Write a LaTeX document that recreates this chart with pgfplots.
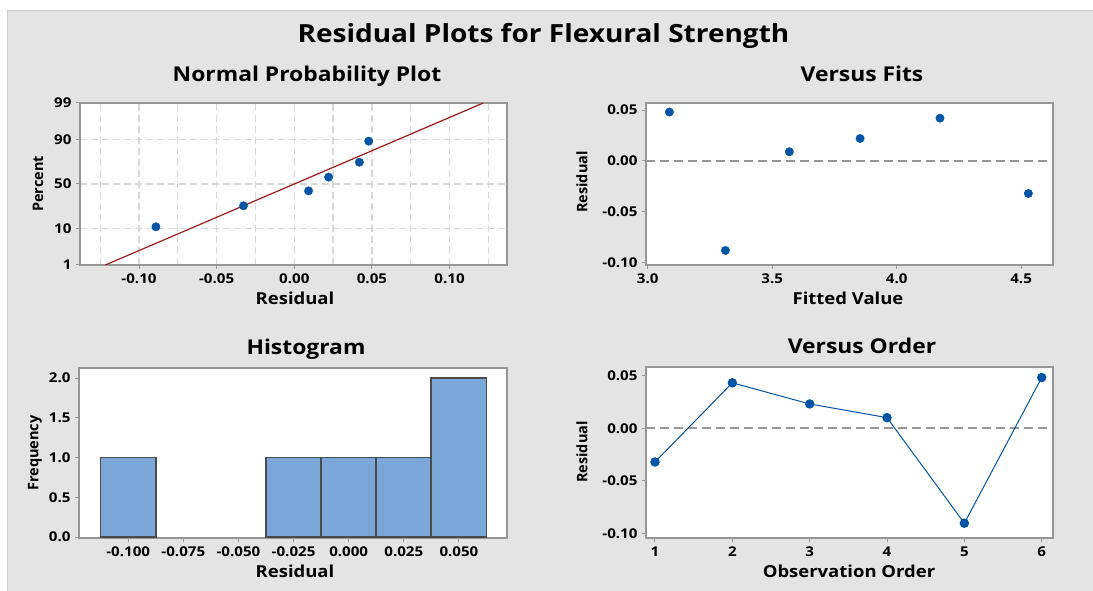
\documentclass[border=0pt]{standalone}
\usepackage{fontspec}
\setmainfont{Open Sans}[FakeStretch=1.12]
\newfontfamily\ylfont{Open Sans}
\usepackage{pgfplots}
\pgfplotsset{compat=1.18}
\definecolor{bgGray}{RGB}{228,228,228}
\definecolor{borderGray}{RGB}{200,200,200}
\definecolor{axisGray}{RGB}{150,150,150}
\definecolor{gridGray}{RGB}{215,215,215}
\definecolor{refGray}{RGB}{150,150,150}
\definecolor{ptBlue}{RGB}{0,84,166}
\definecolor{lineRed}{RGB}{158,28,28}
\definecolor{barBlue}{RGB}{123,166,216}
\definecolor{barEdge}{RGB}{75,75,75}
\pgfplotsset{
  panel/.style={
    scale only axis, anchor=south west,
    /pgf/number format/assume math mode=true,
    axis background/.style={fill=white},
    axis line style={draw=axisGray, line width=1.4pt},
    tick align=outside, xtick pos=bottom, ytick pos=left,
    major tick length=4pt, minor tick length=0pt,
    every tick/.style={draw=axisGray, line width=1pt},
    tick label style={font=\fontsize{13.5}{15}\selectfont\bfseries, text=black},
    xticklabel style={yshift=-1pt},
    yticklabel style={xshift=-1pt},
  },
}
\newcommand{\ttl}{\fontsize{20.4}{24}\selectfont\bfseries}
\newcommand{\xl}{\fontsize{16.5}{19}\selectfont\bfseries}
\newcommand{\yl}{\ylfont\fontsize{14.5}{17}\selectfont\bfseries}
\begin{document}
\begin{tikzpicture}
\useasboundingbox (0pt,0pt) rectangle (1093pt,591pt);
\fill[white] (0pt,0pt) rectangle (1093pt,591pt);
\fill[bgGray] (7pt,0pt) rectangle (1093pt,581pt);
\draw[borderGray, line width=1pt] (7.5pt,0pt) -- (7.5pt,580.5pt) -- (1093pt,580.5pt);

\node[anchor=base] at (543.5pt,548pt) {\fontsize{25}{30}\selectfont\bfseries Residual Plots for Flexural Strength};

% Normal probability plot
\begin{axis}[panel, at={(80pt,326pt)}, width=427pt, height=162pt,
  xmin=-0.138, xmax=0.137, ymin=-2.3263, ymax=2.3263,
  xtick={-0.1,-0.05,0,0.05,0.1}, xticklabels={-0.10,-0.05,0.00,0.05,0.10},
  minor xtick={-0.125,-0.075,-0.025,0.025,0.075,0.125},
  ytick={-2.3263,-1.2816,0,1.2816,2.3263}, yticklabels={1,10,50,90,99},
  xmajorgrids, xminorgrids, ymajorgrids,
  grid style={draw=gridGray, line width=1.2pt, dash pattern=on 7pt off 4pt},
  minor grid style={draw=gridGray, line width=1.2pt, dash pattern=on 7pt off 4pt}]
\addplot[lineRed, line width=1.2pt] coordinates {(-0.1217,-2.3263) (0.1217,2.3263)};
\addplot[only marks, mark=*, mark size=4.2pt, ptBlue] coordinates {
  (-0.0891,-1.2301) (-0.0327,-0.6261) (0.0092,-0.1971) (0.0221,0.1971) (0.0419,0.6261) (0.0479,1.2301)};
\end{axis}
\node[anchor=base] at (307pt,509pt) {\ttl Normal Probability Plot};
\node[anchor=base] at (295pt,286pt) {\xl Residual};
\node[rotate=90] at (38pt,407pt) {\yl Percent};

% Versus fits
\begin{axis}[panel, at={(646pt,326pt)}, width=407pt, height=162pt,
  xmin=2.993, xmax=4.628, ymin=-0.1023, ymax=0.0569,
  xtick={3,3.5,4,4.5}, xticklabels={3.0,3.5,4.0,4.5},
  ytick={-0.1,-0.05,0,0.05}, yticklabels={-0.10,-0.05,0.00,0.05}]
\addplot[refGray, line width=1.5pt, dash pattern=on 9pt off 5pt] coordinates {(2.993,0) (4.628,0)};
\addplot[only marks, mark=*, mark size=4.2pt, ptBlue] coordinates {
  (3.087,0.048) (3.312,-0.088) (3.569,0.009) (3.853,0.022) (4.174,0.042) (4.529,-0.032)};
\end{axis}
\node[anchor=base] at (862pt,509pt) {\ttl Versus Fits};
\node[anchor=base] at (848pt,286pt) {\xl Fitted Value};
\node[rotate=90] at (582pt,409pt) {\yl Residual};

% Histogram
\begin{axis}[panel, at={(79pt,53pt)}, width=428pt, height=170pt,
  xmin=-0.1223, xmax=0.0718, ymin=-0.012, ymax=2.126,
  xtick={-0.1,-0.075,-0.05,-0.025,0,0.025,0.05},
  xticklabels={-0.100,-0.075,-0.050,-0.025,0.000,0.025,0.050},
  ytick={0,0.5,1,1.5,2}, yticklabels={0.0,0.5,1.0,1.5,2.0}]
\addplot[ybar, bar width=55.2pt, fill=barBlue, draw=barEdge, line width=1.7pt] coordinates {
  (-0.1,1) (-0.025,1) (0,1) (0.025,1) (0.05,2)};
\end{axis}
\node[anchor=base] at (306pt,236pt) {\ttl Histogram};
\node[anchor=base] at (295pt,13pt) {\xl Residual};
\node[rotate=90] at (35pt,138pt) {\yl Frequency};

% Versus order
\begin{axis}[panel, at={(646pt,53pt)}, width=407pt, height=171pt,
  xmin=0.884, xmax=6.146, ymin=-0.104, ymax=0.058,
  xtick={1,2,3,4,5,6}, xticklabels={1,2,3,4,5,6},
  ytick={-0.1,-0.05,0,0.05}, yticklabels={-0.10,-0.05,0.00,0.05}]
\addplot[refGray, line width=1.5pt, dash pattern=on 9pt off 5pt] coordinates {(0.884,0) (6.146,0)};
\addplot[ptBlue, line width=1pt, mark=*, mark size=4.2pt] coordinates {
  (1,-0.032) (2,0.043) (3,0.023) (4,0.010) (5,-0.090) (6,0.048)};
\end{axis}
\node[anchor=base] at (862pt,237pt) {\ttl Versus Order};
\node[anchor=base] at (849pt,13pt) {\xl Observation Order};
\node[rotate=90] at (582pt,139pt) {\yl Residual};
\end{tikzpicture}
\end{document}
